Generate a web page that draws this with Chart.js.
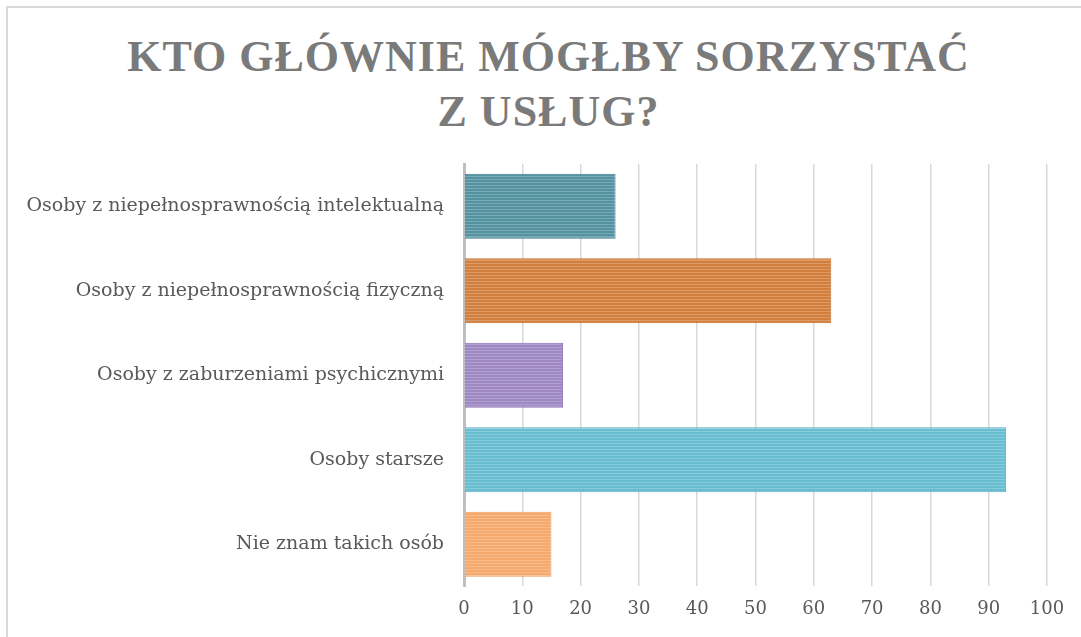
<!DOCTYPE html>
<html>
<head>
<meta charset="utf-8">
<script src="https://cdn.jsdelivr.net/npm/chart.js@4"></script>
<style>
  html, body { margin: 0; padding: 0; background: #fff; }
  #wrap { position: relative; width: 1081px; height: 637px; overflow: hidden; }
  #frame { position: absolute; left: 6px; top: 6px; width: 1090px; height: 650px; border: 2px solid #d9d9d9; box-sizing: border-box; }
  #title {
    position: absolute; left: 8px; top: 29px; width: 1081px; text-align: center;
    font-family: "Liberation Serif", serif; font-weight: bold; font-size: 44px;
    line-height: 55px; letter-spacing: 1px; color: #7a7a7a;
  }
  #c { position: absolute; left: 0; top: 0; }
</style>
</head>
<body>
<div id="wrap">
  <div id="frame"></div>
  <div id="title">KTO GŁÓWNIE MÓGŁBY SORZYSTAĆ<br>Z USŁUG?</div>
  <canvas id="c" width="1081" height="637"></canvas>
</div>
<script>
const categories = [
  'Osoby z niepełnosprawnością intelektualną',
  'Osoby z niepełnosprawnością fizyczną',
  'Osoby z zaburzeniami psychicznymi',
  'Osoby starsze',
  'Nie znam takich osób'
];
const values = [26, 63, 17, 93, 15];
const barColors = ['#5492a2', '#d27f3d', '#9e88c4', '#68bdd1', '#f6a96c'];
const borderColors = ['#427f90', '#c06d2c', '#8b74b3', '#55abc0', '#eb9a5b'];

// striped fill like the original bars
function stripes(color) {
  const p = document.createElement('canvas');
  p.width = 4; p.height = 3;
  const g = p.getContext('2d');
  g.fillStyle = color;
  g.fillRect(0, 0, 4, 3);
  g.fillStyle = 'rgba(255,255,255,0.22)';
  g.fillRect(0, 2, 4, 1);
  return g.createPattern(p, 'repeat');
}

const ctx = document.getElementById('c').getContext('2d');

new Chart(ctx, {
  type: 'bar',
  data: {
    labels: categories,
    datasets: [{
      data: values,
      backgroundColor: barColors.map(stripes),
      borderColor: borderColors,
      borderWidth: 1,
      barPercentage: 0.77,
      categoryPercentage: 1
    }]
  },
  options: {
    indexAxis: 'y',
    responsive: false,
    animation: false,
    layout: { padding: { top: 164, right: 34, bottom: 5, left: 0 } },
    plugins: { legend: { display: false }, tooltip: { enabled: false } },
    scales: {
      x: {
        min: 0, max: 100,
        ticks: { stepSize: 10, color: '#595959', padding: 12, font: { family: 'DejaVu Serif', size: 18 } },
        grid: { color: '#d9d9d9', lineWidth: 1.5, drawTicks: false },
        border: { display: false }
      },
      y: {
        afterFit: s => { s.width = 464; },
        ticks: { color: '#595959', padding: 12, font: { family: 'DejaVu Serif', size: 19 } },
        grid: { display: false },
        border: { color: '#bfbfbf', width: 3 }
      }
    }
  }
});
</script>
</body>
</html>
